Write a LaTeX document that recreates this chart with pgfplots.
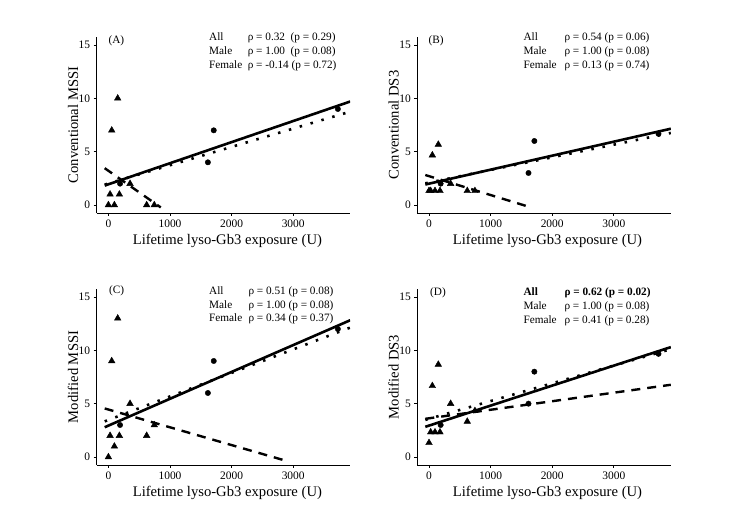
\documentclass[border=0pt]{standalone}
\usepackage{pgfplots}
\usepackage{pgfplotstable}
\pgfplotsset{compat=1.18}
\usepackage{fontspec}
\setmainfont{Liberation Serif}

% Scores per subject against lifetime lyso-Gb3 exposure
\pgfplotstableread{
x     cmssi cds3 mmssi mds3
0     0     1.33 0     1.33
27    1     1.33 2     2.33
54    7     4.67 9     6.67
97    0     1.33 1     2.33
151   10    5.67 13    8.67
178   1     1.33 2     2.33
351   2     2.00 5     5.00
621   0     1.33 2     3.33
745   0     1.33 3     4.33
}\female
\pgfplotstableread{
x     cmssi cds3 mmssi mds3
189   2     2.00 3     3.00
1615  4     3.00 6     5.00
1710  7     6.00 9     8.00
3725  9     6.67 12    9.67
}\male

\pgfplotsset{
  panel/.style={
    scale only axis, width=253.5bp, height=176bp,
    anchor=south west,
    xmin=-190, xmax=3925, ymin=-0.75, ymax=15.75,
    axis x line*=bottom, axis y line*=left,
    axis line style={line width=0.8bp},
    xtick={0,1000,2000,3000}, ytick={0,5,10,15},
    tick align=outside, major tick length=3bp,
    tick style={line width=0.8bp, black},
    /pgf/number format/assume math mode=true,
    /pgf/number format/1000 sep={},
    tick label style={font=\fontsize{11.5}{12}\selectfont},
    clip=true,
  },
  fitall/.style={black, line width=2.6bp},
  fitmale/.style={black, line width=2.6bp, dash pattern=on 2.5bp off 8.8bp},
  fitfemale/.style={black, line width=2.4bp, dash pattern=on 9bp off 7bp},
  fem/.style={only marks, mark=triangle*, mark size=3.8bp, black},
  mal/.style={only marks, mark=*, mark size=2.7bp, black},
}
\newcommand{\annot}{\fontsize{11.3}{13}\selectfont}
\newcommand{\ttl}{\fontsize{14.7}{16}\selectfont}

\begin{document}
\begin{tikzpicture}[x=1bp,y=1bp]
\useasboundingbox (0,0) rectangle (750,530);

% ---------- (A) Conventional MSSI ----------
\begin{axis}[panel, at={(96.7bp,317bp)}]
  \addplot[fitall] coordinates {(-60,1.82) (3925,9.70)};
  \addplot[fitmale] coordinates {(-60,1.91) (3925,8.75)};
  \addplot[fitfemale] coordinates {(-60,3.45) (850,-0.23)};
  \addplot[fem] table[x=x,y=cmssi] {\female};
  \addplot[mal] table[x=x,y=cmssi] {\male};
\end{axis}
\node[anchor=base west] at (105,486.5) {\annot (A)};
\node[anchor=base west] at (205.7,489.3) {\annot All};
\node[anchor=base west] at (244.3,489.3) {\annot ρ = 0.32\ \ (p = 0.29)};
\node[anchor=base west] at (205.7,475.5) {\annot Male};
\node[anchor=base west] at (244.3,475.5) {\annot ρ = 1.00\ \ (p = 0.08)};
\node[anchor=base west] at (205.7,461.7) {\annot Female};
\node[anchor=base west] at (244.3,461.7) {\annot ρ = -0.14 (p = 0.72)};
\node[anchor=base] at (227.4,285) {\ttl Lifetime lyso-Gb3 exposure (U)};
\node[rotate=90,anchor=base] at (78,405) {\ttl Conventional MSSI};

% ---------- (B) Conventional DS3 ----------
\begin{axis}[panel, at={(417.3bp,317bp)}]
  \addplot[fitall] coordinates {(-60,1.92) (3925,7.15)};
  \addplot[fitmale] coordinates {(-60,2.03) (3925,6.75)};
  \addplot[fitfemale] coordinates {(-60,2.81) (1600,-0.13)};
  \addplot[fem] table[x=x,y=cds3] {\female};
  \addplot[mal] table[x=x,y=cds3] {\male};
\end{axis}
\node[anchor=base west] at (425,486.5) {\annot (B)};
\node[anchor=base west] at (520,489.3) {\annot All};
\node[anchor=base west] at (561,489.3) {\annot ρ = 0.54 (p = 0.06)};
\node[anchor=base west] at (520,475.5) {\annot Male};
\node[anchor=base west] at (561,475.5) {\annot ρ = 1.00 (p = 0.08)};
\node[anchor=base west] at (520,461.7) {\annot Female};
\node[anchor=base west] at (561,461.7) {\annot ρ = 0.13 (p = 0.74)};
\node[anchor=base] at (547.5,285) {\ttl Lifetime lyso-Gb3 exposure (U)};
\node[rotate=90,anchor=base] at (398.5,405) {\ttl Conventional DS3};

% ---------- (C) Modified MSSI ----------
\begin{axis}[panel, at={(96.7bp,65bp)}]
  \addplot[fitall] coordinates {(-60,2.79) (3925,12.82)};
  \addplot[fitmale] coordinates {(-60,3.34) (3925,12.13)};
  \addplot[fitfemale] coordinates {(-60,4.55) (2850,-0.30)};
  \addplot[fem] table[x=x,y=mmssi] {\female};
  \addplot[mal] table[x=x,y=mmssi] {\male};
\end{axis}
\node[anchor=base west] at (105.7,236.3) {\annot (C)};
\node[anchor=base west] at (205.7,235.7) {\annot All};
\node[anchor=base west] at (245,235.7) {\annot ρ = 0.51 (p = 0.08)};
\node[anchor=base west] at (205.7,221.9) {\annot Male};
\node[anchor=base west] at (245,221.9) {\annot ρ = 1.00 (p = 0.08)};
\node[anchor=base west] at (205.7,208.1) {\annot Female};
\node[anchor=base west] at (245,208.1) {\annot ρ = 0.34 (p = 0.37)};
\node[anchor=base] at (227.4,33) {\ttl Lifetime lyso-Gb3 exposure (U)};
\node[rotate=90,anchor=base] at (78,153) {\ttl Modified MSSI};

% ---------- (D) Modified DS3 ----------
\begin{axis}[panel, at={(417.3bp,65bp)}]
  \addplot[fitall] coordinates {(-60,2.83) (3925,10.30)};
  \addplot[fitmale] coordinates {(-60,3.48) (3925,10.11)};
  \addplot[fitfemale] coordinates {(-60,3.58) (3925,6.77)};
  \addplot[fem] table[x=x,y=mds3] {\female};
  \addplot[mal] table[x=x,y=mds3] {\male};
\end{axis}
\node[anchor=base west] at (426.7,234) {\annot (D)};
\node[anchor=base west] at (520,234) {\annot\bfseries All};
\node[anchor=base west] at (561,234) {\annot\bfseries ρ = 0.62 (p = 0.02)};
\node[anchor=base west] at (520,220.2) {\annot Male};
\node[anchor=base west] at (561,220.2) {\annot ρ = 1.00 (p = 0.08)};
\node[anchor=base west] at (520,206.4) {\annot Female};
\node[anchor=base west] at (561,206.4) {\annot ρ = 0.41 (p = 0.28)};
\node[anchor=base] at (547.5,33) {\ttl Lifetime lyso-Gb3 exposure (U)};
\node[rotate=90,anchor=base] at (398.5,153) {\ttl Modified DS3};
\end{tikzpicture}
\end{document}
